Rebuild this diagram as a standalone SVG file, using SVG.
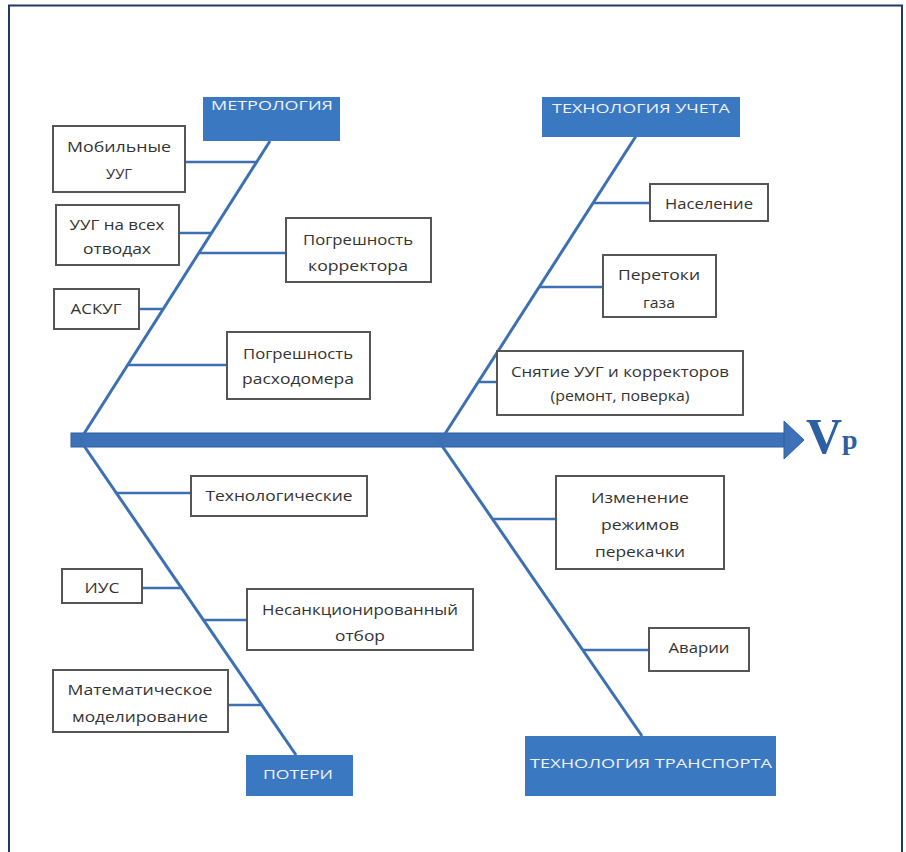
<svg xmlns="http://www.w3.org/2000/svg" width="906" height="852" viewBox="0 0 906 852">
<style>
.box{fill:#fff;stroke:#555;stroke-width:2}
.hdr{fill:#3b78c2}
.t{font-family:"Open Sans","Liberation Sans",sans-serif;font-size:15px;fill:#333;text-anchor:middle;dominant-baseline:central}
.h{font-family:"Open Sans","Liberation Sans",sans-serif;font-size:13px;fill:#eef3fb;text-anchor:middle;dominant-baseline:central}
.sp{stroke:#3c70b3;stroke-width:3;fill:none}
.cn{stroke:#3c70b3;stroke-width:2.5;fill:none}
</style>
<defs>
<clipPath id="clipV"><rect x="790" y="400" width="72" height="80"/></clipPath>
</defs>
<rect width="906" height="852" fill="#fff"/>
<path d="M9,852 V5.5 H902 V852" fill="none" stroke="#1f3864" stroke-width="2"/>

<g id="connectors">
<rect x="71" y="433" width="716" height="14" fill="#3d72b8" stroke="#2f5f9e" stroke-width="1"/>
<polygon points="784,421 804,440 784,459" fill="#3d72b8" stroke="#2f5f9e" stroke-width="1"/>
<line class="sp" x1="270" y1="141" x2="80" y2="440"/>
<line class="sp" x1="636" y1="136" x2="441" y2="440"/>
<line class="sp" x1="80" y1="440" x2="296" y2="755"/>
<line class="sp" x1="438" y1="440" x2="642" y2="736"/>
<line class="cn" x1="185" y1="162" x2="257" y2="162"/>
<line class="cn" x1="179" y1="233" x2="212" y2="233"/>
<line class="cn" x1="199" y1="253" x2="286" y2="253"/>
<line class="cn" x1="139" y1="309" x2="163" y2="309"/>
<line class="cn" x1="128" y1="365" x2="227" y2="365"/>
<line class="cn" x1="593" y1="203" x2="650" y2="203"/>
<line class="cn" x1="539" y1="287" x2="603" y2="287"/>
<line class="cn" x1="478" y1="382" x2="497" y2="382"/>
<line class="cn" x1="116" y1="493" x2="191" y2="493"/>
<line class="cn" x1="142" y1="588" x2="181" y2="588"/>
<line class="cn" x1="203" y1="620" x2="247" y2="620"/>
<line class="cn" x1="228" y1="705" x2="262" y2="705"/>
<line class="cn" x1="492" y1="519" x2="556" y2="519"/>
<line class="cn" x1="583" y1="650" x2="649" y2="650"/>
</g>

<g id="result" clip-path="url(#clipV)">
<text x="806" y="453" font-family="Liberation Serif,serif" font-weight="bold" font-size="50" fill="#2d5fa3">V</text>
<text x="842" y="449" font-family="Liberation Serif,serif" font-weight="bold" font-size="28" fill="#2d5fa3">р</text>
</g>

<g id="metrologiya">
<rect class="hdr" x="203" y="97" width="137" height="44"/>
<text class="h" x="272" y="105" textLength="122" lengthAdjust="spacingAndGlyphs">МЕТРОЛОГИЯ</text>
</g>
<g id="tech-ucheta">
<rect class="hdr" x="542" y="97" width="198" height="40"/>
<text class="h" x="641" y="108" textLength="178" lengthAdjust="spacingAndGlyphs">ТЕХНОЛОГИЯ УЧЕТА</text>
</g>
<g id="poteri">
<rect class="hdr" x="246" y="755" width="107" height="41"/>
<text class="h" x="298" y="774" textLength="70" lengthAdjust="spacingAndGlyphs">ПОТЕРИ</text>
</g>
<g id="tech-transporta">
<rect class="hdr" x="525" y="736" width="251" height="60"/>
<text class="h" x="651" y="763" textLength="242" lengthAdjust="spacingAndGlyphs">ТЕХНОЛОГИЯ ТРАНСПОРТА</text>
</g>

<g id="mobil">
<rect class="box" x="53" y="126" width="132" height="66"/>
<text class="t" x="119" y="146" textLength="104" lengthAdjust="spacingAndGlyphs">Мобильные</text>
<text class="t" x="119" y="173" textLength="26" lengthAdjust="spacingAndGlyphs">УУГ</text>
</g>
<g id="uug-otvody">
<rect class="box" x="56" y="205" width="123" height="60"/>
<text class="t" x="117" y="224" textLength="95" lengthAdjust="spacingAndGlyphs">УУГ на всех</text>
<text class="t" x="117" y="248" textLength="68" lengthAdjust="spacingAndGlyphs">отводах</text>
</g>
<g id="pogr-korr">
<rect class="box" x="286" y="218" width="145" height="64"/>
<text class="t" x="358" y="239" textLength="110" lengthAdjust="spacingAndGlyphs">Погрешность</text>
<text class="t" x="358" y="265" textLength="100" lengthAdjust="spacingAndGlyphs">корректора</text>
</g>
<g id="askug">
<rect class="box" x="54" y="289" width="85" height="40"/>
<text class="t" x="96" y="308" textLength="51" lengthAdjust="spacingAndGlyphs">АСКУГ</text>
</g>
<g id="pogr-rash">
<rect class="box" x="227" y="332" width="143" height="67"/>
<text class="t" x="298" y="353" textLength="110" lengthAdjust="spacingAndGlyphs">Погрешность</text>
<text class="t" x="298" y="378" textLength="112" lengthAdjust="spacingAndGlyphs">расходомера</text>
</g>
<g id="naselenie">
<rect class="box" x="650" y="184" width="118" height="37"/>
<text class="t" x="709" y="203" textLength="88" lengthAdjust="spacingAndGlyphs">Население</text>
</g>
<g id="peretoki">
<rect class="box" x="603" y="255" width="113" height="62"/>
<text class="t" x="659" y="274" textLength="82" lengthAdjust="spacingAndGlyphs">Перетоки</text>
<text class="t" x="659" y="302" textLength="32" lengthAdjust="spacingAndGlyphs">газа</text>
</g>
<g id="snyatie">
<rect class="box" x="497" y="351" width="246" height="64"/>
<text class="t" x="620" y="371" textLength="218" lengthAdjust="spacingAndGlyphs">Снятие УУГ и корректоров</text>
<text class="t" x="620" y="395" textLength="139" lengthAdjust="spacingAndGlyphs">(ремонт, поверка)</text>
</g>
<g id="tehnolog">
<rect class="box" x="191" y="476" width="176" height="40"/>
<text class="t" x="279" y="495" textLength="147" lengthAdjust="spacingAndGlyphs">Технологические</text>
</g>
<g id="ius">
<rect class="box" x="62" y="569" width="80" height="34"/>
<text class="t" x="102" y="587" textLength="35" lengthAdjust="spacingAndGlyphs">ИУС</text>
</g>
<g id="nesank">
<rect class="box" x="247" y="589" width="226" height="61"/>
<text class="t" x="360" y="609" textLength="196" lengthAdjust="spacingAndGlyphs">Несанкционированный</text>
<text class="t" x="360" y="635" textLength="50" lengthAdjust="spacingAndGlyphs">отбор</text>
</g>
<g id="matem">
<rect class="box" x="53" y="670" width="175" height="62"/>
<text class="t" x="140" y="689" textLength="145" lengthAdjust="spacingAndGlyphs">Математическое</text>
<text class="t" x="140" y="716" textLength="136" lengthAdjust="spacingAndGlyphs">моделирование</text>
</g>
<g id="izmenenie">
<rect class="box" x="556" y="476" width="168" height="93"/>
<text class="t" x="640" y="497" textLength="98" lengthAdjust="spacingAndGlyphs">Изменение</text>
<text class="t" x="640" y="524" textLength="78" lengthAdjust="spacingAndGlyphs">режимов</text>
<text class="t" x="640" y="551" textLength="90" lengthAdjust="spacingAndGlyphs">перекачки</text>
</g>
<g id="avarii">
<rect class="box" x="649" y="628" width="100" height="43"/>
<text class="t" x="699" y="647" textLength="61" lengthAdjust="spacingAndGlyphs">Аварии</text>
</g>
</svg>
